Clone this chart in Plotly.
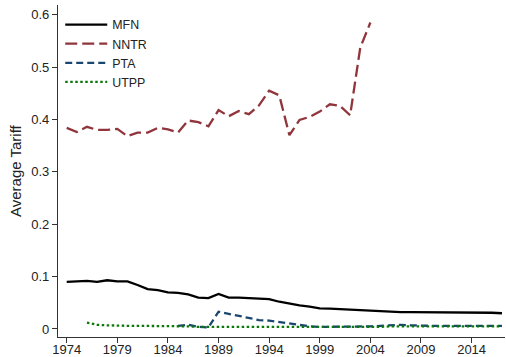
import plotly.graph_objects as go

# Average tariff by regime, 1974-2017
mfn_years = list(range(1974, 2018))
mfn = [0.090, 0.091, 0.092, 0.090, 0.093, 0.091, 0.091, 0.084, 0.076, 0.074,
       0.070, 0.069, 0.066, 0.060, 0.059, 0.067, 0.060, 0.060, 0.059, 0.058,
       0.057, 0.052, 0.048, 0.045, 0.0425, 0.0395, 0.039, 0.038, 0.037, 0.035,
       0.034, 0.033, 0.033, 0.032, 0.032, 0.032, 0.032, 0.032, 0.031, 0.031,
       0.031, 0.031, 0.031, 0.030]

nntr_years = list(range(1974, 2005))
nntr = [0.384, 0.376, 0.386, 0.380, 0.380, 0.382, 0.368, 0.375, 0.375, 0.384,
        0.381, 0.375, 0.398, 0.395, 0.387, 0.418, 0.406, 0.416, 0.410, 0.427,
        0.455, 0.446, 0.370, 0.399, 0.405, 0.415, 0.429, 0.426, 0.408, 0.537,
        0.585]

pta_years = list(range(1985, 2018))
pta = [0.006, 0.008, 0.004, 0.003, 0.033, 0.029, 0.025, 0.020, 0.017, 0.016,
       0.013, 0.010, 0.007, 0.005, 0.004, 0.004, 0.004, 0.004, 0.004, 0.005,
       0.006, 0.007, 0.008, 0.007, 0.006, 0.006, 0.006, 0.006, 0.006, 0.006,
       0.006, 0.006, 0.006]

utpp_years = list(range(1976, 2018))
utpp = [0.012, 0.008, 0.007, 0.006, 0.006, 0.006, 0.006, 0.005, 0.005, 0.005,
        0.005, 0.004, 0.004, 0.004, 0.004, 0.003, 0.003, 0.003, 0.003, 0.003,
        0.003, 0.003, 0.003, 0.003, 0.004, 0.004, 0.004, 0.004, 0.004, 0.004,
        0.005, 0.005, 0.005, 0.005, 0.005, 0.005, 0.005, 0.005, 0.005, 0.005,
        0.005, 0.005]

x_ticks = [1974, 1979, 1984, 1989, 1994, 1999, 2004, 2009, 2014]
y_ticks = [0, 0.1, 0.2, 0.3, 0.4, 0.5, 0.6]
y_tick_text = ["0", "0.1", "0.2", "0.3", "0.4", "0.5", "0.6"]

FONT = "Liberation Sans, Arial, sans-serif"

fig = go.Figure()
fig.add_trace(go.Scatter(x=mfn_years, y=mfn, name="MFN", mode="lines",
                         line=dict(color="#000000", width=2.3)))
fig.add_trace(go.Scatter(x=nntr_years, y=nntr, name="NNTR", mode="lines",
                         line=dict(color="#90353b", width=2.3, dash="12px,5px")))
fig.add_trace(go.Scatter(x=pta_years, y=pta, name="PTA", mode="lines",
                         line=dict(color="#1a476f", width=2.3, dash="7px,4px")))
fig.add_trace(go.Scatter(x=utpp_years, y=utpp, name="UTPP", mode="lines",
                         line=dict(color="#0a780a", width=2.3, dash="2.5px,2.5px")))

fig.update_layout(
    width=506, height=357,
    margin=dict(l=58, r=1, t=5, b=20, autoexpand=False),
    paper_bgcolor="white", plot_bgcolor="white",
    font=dict(family=FONT, size=13, color="#222222"),
    showlegend=True,
    legend=dict(x=0.005, y=0.985, xanchor="left", yanchor="top",
                bgcolor="rgba(0,0,0,0)", font=dict(size=12.4),
                itemwidth=42, tracegroupgap=0),
    xaxis=dict(range=[1973.14, 2017.3], tickmode="array", tickvals=x_ticks,
               showgrid=False, zeroline=False, showline=True, automargin=False,
               linecolor="#333333", linewidth=1.3, ticks="outside",
               ticklen=5, tickcolor="#333333", tickwidth=1.3,
               ticklabelstandoff=-5),
    yaxis=dict(range=[-0.0153, 0.6185], tickmode="array", tickvals=y_ticks,
               ticktext=y_tick_text, showgrid=False, zeroline=False,
               automargin=False,
               showline=True, linecolor="#333333", linewidth=1.3,
               ticks="outside", ticklen=5, tickcolor="#333333", tickwidth=1.3),
    annotations=[dict(text="Average Tariff", xref="paper", yref="paper",
                      x=(15 - 58) / 447, y=0.5, xanchor="center",
                      yanchor="middle", textangle=-90, showarrow=False,
                      font=dict(size=15, family=FONT, color="#222222"))],
)

fig.write_html("out.html")
